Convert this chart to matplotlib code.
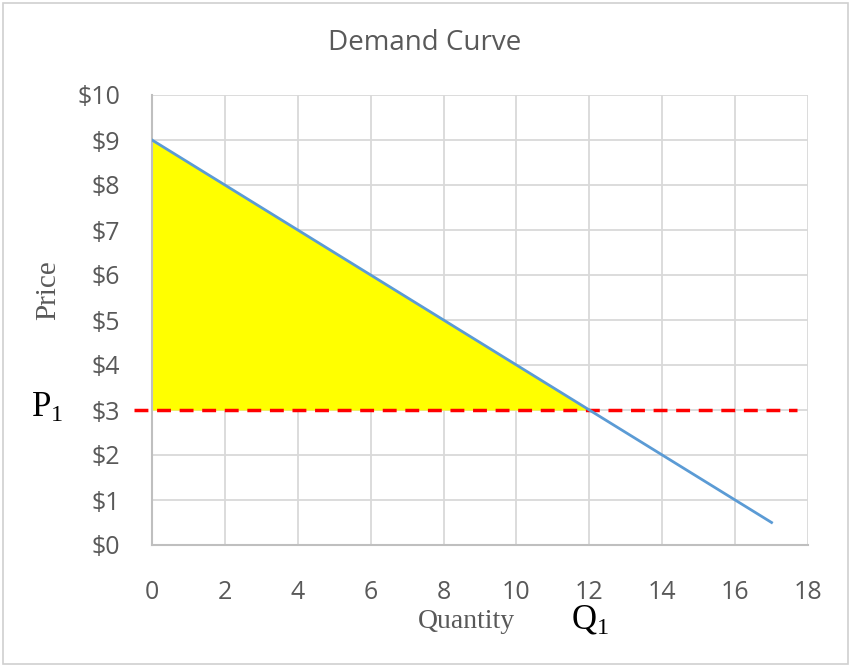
import matplotlib
matplotlib.use("Agg")
import matplotlib.pyplot as plt
from matplotlib.patches import Rectangle
from matplotlib.ticker import FuncFormatter

plt.rcParams["mathtext.fontset"] = "custom"
plt.rcParams["mathtext.rm"] = "Liberation Serif"
plt.rcParams["mathtext.it"] = "Liberation Serif:italic"

# Data
demand_q = [0, 17]
demand_p = [9, 0.5]
surplus_q = [0, 12]
surplus_p = [9, 3]
price_p1 = 3
qty_q1 = 12
p1_line_q = [-0.5, 17.7]
x_ticks = [0, 2, 4, 6, 8, 10, 12, 14, 16, 18]
y_ticks = [0, 1, 2, 3, 4, 5, 6, 7, 8, 9, 10]

W, H = 851, 667
fig = plt.figure(figsize=(W / 100, H / 100), dpi=100)
fig.patch.set_facecolor("white")

# chart border
fig.patches.append(Rectangle((3 / W, 3 / H), (848 - 3) / W, (664 - 3) / H,
                             transform=fig.transFigure, fill=False,
                             edgecolor="#d0d0d0", linewidth=1.2))

ax = fig.add_axes([152 / W, 1 - 545 / H, (808 - 152) / W, (545 - 95) / H])
ax.set_xlim(0, 18)
ax.set_ylim(0, 10)
ax.set_xticks(x_ticks)
ax.set_yticks(y_ticks)
ax.yaxis.set_major_formatter(FuncFormatter(lambda v, p: f"${int(v)}"))
ax.grid(True, color="#d9d9d9", linewidth=1.3)
ax.set_axisbelow(True)
for s in ["top", "right"]:
    ax.spines[s].set_visible(False)
for s in ["left", "bottom"]:
    ax.spines[s].set_color("#bfbfbf")
    ax.spines[s].set_linewidth(1.5)
ax.tick_params(length=0, labelsize=18, colors="#595959")
ax.tick_params(axis="x", pad=25)
ax.tick_params(axis="y", pad=23)
for lab in ax.get_xticklabels() + ax.get_yticklabels():
    lab.set_fontfamily("Open Sans")

ax.fill_between(surplus_q, surplus_p, price_p1, color="#ffff00", linewidth=0, zorder=2)
ax.plot(p1_line_q, [price_p1, price_p1], color="#ff0000", linewidth=2.5,
        linestyle=(0, (4, 2.5)), zorder=3, clip_on=False)
ax.plot(demand_q, demand_p, color="#5b9bd5", linewidth=2, zorder=4)

fig.text(425 / W, 1 - 43 / H, "Demand Curve", ha="center", va="center",
         fontsize=20, color="#595959", family="Open Sans")
fig.text(48 / W, 1 - 290 / H, "Price", ha="center", va="center", rotation=90,
         fontsize=21, color="#595959", family="Liberation Serif")
fig.text(466 / W, 1 - 622 / H, "Quantity", ha="center", va="center",
         fontsize=20, color="#595959", family="Liberation Serif")
fig.text(590 / W, 1 - 620 / H, r"Q$_\mathrm{1}$", ha="center", va="center",
         fontsize=25, color="black", family="Liberation Serif")
fig.text(47 / W, 1 - 408 / H, r"P$_\mathrm{1}$", ha="center", va="center",
         fontsize=25, color="black", family="Liberation Serif")

fig.savefig("out.png", dpi=100)
